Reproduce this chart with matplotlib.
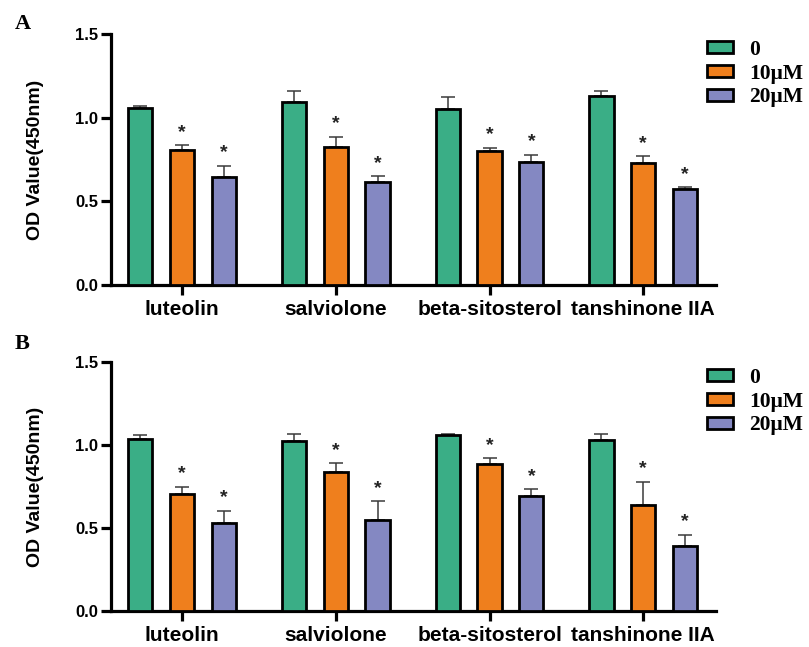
import numpy as np
import matplotlib
matplotlib.use('Agg')
import matplotlib.pyplot as plt
from matplotlib.patches import Patch

compounds = ['luteolin', 'salviolone', 'beta-sitosterol', 'tanshinone IIA']
doses = ['0', '10\u03bcM', '20\u03bcM']
colors = ['#3aae86', '#ef7f1d', '#8488c2']

# panel A: mean OD450 per dose, and the upper SD
mean_a_0 = [1.055, 1.095, 1.050, 1.130]
mean_a_10 = [0.805, 0.825, 0.803, 0.730]
mean_a_20 = [0.645, 0.618, 0.735, 0.575]
sd_a_0 = [0.012, 0.062, 0.074, 0.029]
sd_a_10 = [0.032, 0.062, 0.018, 0.040]
sd_a_20 = [0.067, 0.033, 0.044, 0.010]

# panel B
mean_b_0 = [1.038, 1.027, 1.060, 1.030]
mean_b_10 = [0.706, 0.838, 0.888, 0.640]
mean_b_20 = [0.531, 0.550, 0.690, 0.392]
sd_b_0 = [0.023, 0.042, 0.007, 0.035]
sd_b_10 = [0.044, 0.053, 0.033, 0.140]
sd_b_20 = [0.074, 0.110, 0.042, 0.068]

# which doses carry a significance star
star = [False, True, True]

plt.rcParams['font.family'] = ['Liberation Sans', 'DejaVu Sans']

W, H = 809, 647
fig = plt.figure(figsize=(W / 100, H / 100), dpi=100)


def draw_panel(ax, means, sds):
    x = np.arange(len(compounds))
    offsets = [-0.272, 0.0, 0.272]
    for i in range(3):
        xs = x + offsets[i]
        ax.errorbar(xs, means[i], yerr=[np.zeros(len(sds[i])), sds[i]],
                    fmt='none', ecolor='#3a3a3a', elinewidth=1.1,
                    capsize=5, capthick=1.1, zorder=2)
        ax.bar(xs, means[i], width=0.158, color=colors[i],
               edgecolor='black', linewidth=2.0, zorder=3)
        if star[i]:
            for xi, m, s in zip(xs, means[i], sds[i]):
                ax.annotate('*', (xi, m + s), xytext=(0, 6),
                            textcoords='offset points', ha='center',
                            va='baseline', fontsize=14, fontweight='bold',
                            color='#222222')
    ax.set_xlim(-0.462, 3.473)
    ax.set_ylim(0, 1.5)
    ax.set_yticks([0, 0.5, 1.0, 1.5])
    ax.set_yticklabels(['0.0', '0.5', '1.0', '1.5'])
    ax.set_xticks(x)
    ax.set_xticklabels(compounds)
    for side in ['top', 'right']:
        ax.spines[side].set_visible(False)
    for side in ['left', 'bottom']:
        ax.spines[side].set_linewidth(2.3)
    ax.tick_params(axis='both', width=2.3, length=7, direction='out')
    ax.tick_params(axis='y', labelsize=12, pad=2)
    ax.tick_params(axis='x', labelsize=15, pad=4)
    for lab in ax.get_xticklabels() + ax.get_yticklabels():
        lab.set_fontweight('bold')
    ax.set_ylabel('OD Value(450nm)', fontsize=14, fontweight='bold')
    ax.yaxis.set_label_coords(-0.111, 0.5)


left = 111 / W
width = (716 - 111) / W
ax_a = fig.add_axes([left, 1 - 285 / H, width, (285 - 34) / H])
ax_b = fig.add_axes([left, 1 - 611 / H, width, (611 - 362) / H])

draw_panel(ax_a, [mean_a_0, mean_a_10, mean_a_20], [sd_a_0, sd_a_10, sd_a_20])
draw_panel(ax_b, [mean_b_0, mean_b_10, mean_b_20], [sd_b_0, sd_b_10, sd_b_20])

handles = [Patch(facecolor=c, edgecolor='black', linewidth=2.0) for c in colors]
for top in [1 - 40 / H, 1 - 368 / H]:
    fig.legend(handles, doses, loc='upper left',
               bbox_to_anchor=(707 / W, top), bbox_transform=fig.transFigure,
               frameon=False, borderpad=0, borderaxespad=0,
               handlelength=1.2, handleheight=0.5, handletextpad=0.75,
               labelspacing=0.17,
               prop={'family': 'Liberation Serif', 'weight': 'bold', 'size': 15.5})

fig.text(15 / W, 1 - 29 / H, 'A', fontsize=16, fontweight='bold',
         family='Liberation Serif', va='baseline')
fig.text(15 / W, 1 - 349 / H, 'B', fontsize=16, fontweight='bold',
         family='Liberation Serif', va='baseline')

fig.savefig('out.png', dpi=100)
